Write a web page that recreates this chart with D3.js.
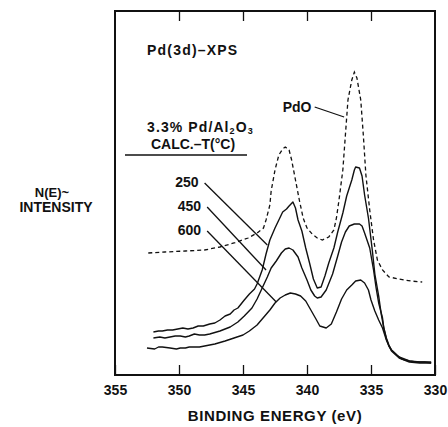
<!DOCTYPE html>
<html>
<head>
<meta charset="utf-8">
<script src="https://cdn.jsdelivr.net/npm/d3@7"></script>
<style>
  html, body { margin: 0; padding: 0; background: #fff; }
  svg { display: block; }
  text { font-family: "Liberation Sans", Arial, Helvetica, sans-serif; font-weight: 700; fill: #111; }
</style>
</head>
<body>
<svg id="chart" width="448" height="427"></svg>
<script>
// Binding energy (eV) and N(E) intensity (arbitrary units)
const pdoEnergy = [352.4, 351.1, 349.5, 348.0, 346.8, 345.7, 344.6, 343.9, 343.4, 343.2, 342.9, 342.8,
  342.5, 342.2, 341.9, 341.7, 341.4, 341.2, 340.9, 340.6, 340.3, 340.0, 339.6, 339.2, 338.8, 338.3,
  337.9, 337.7, 337.5, 337.2, 337.0, 336.8, 336.5, 336.3, 336.1, 335.8, 335.6, 335.4, 335.1, 334.8,
  334.5, 334.1, 333.6, 332.8, 331.9, 331.0];
const pdoIntensity = [12.2, 12.3, 12.4, 12.5, 12.8, 13.2, 13.7, 14.2, 14.7, 15.5, 17.0, 18.4,
  20.5, 22.0, 22.6, 22.8, 22.5, 21.5, 19.5, 17.5, 15.7, 14.7, 14.1, 13.7, 13.5, 13.8,
  14.5, 15.7, 17.5, 20.5, 24.0, 27.5, 29.5, 30.3, 29.7, 27.5, 24.0, 20.0, 16.5, 13.5,
  11.5, 10.5, 9.8, 9.6, 9.4, 9.3];

const t250Energy = [352.0, 351.6, 351.3, 350.9, 350.5, 350.1, 349.7, 349.3, 348.9, 348.5, 348.1, 347.6,
  347.2, 346.8, 346.4, 346.0, 345.7, 345.4, 344.9, 344.5, 344.1, 343.9, 343.5, 343.2, 342.9, 342.5,
  342.2, 341.9, 341.6, 341.4, 341.1, 340.9, 340.7, 340.4, 340.1, 339.8, 339.5, 339.2, 338.9, 338.6,
  338.3, 337.9, 337.6, 337.2, 336.9, 336.5, 336.3, 336.2, 335.9, 335.7, 335.5, 335.2, 334.9, 334.7,
  334.4, 334.2, 334.0, 333.8, 333.6, 333.4, 332.8, 332.0, 331.2, 330.3];
const t250Intensity = [4.3, 4.4, 4.4, 4.5, 4.5, 4.6, 4.7, 4.6, 4.7, 4.9, 4.9, 5.1,
  5.2, 5.5, 5.9, 6.1, 6.5, 6.7, 7.5, 8.1, 8.6, 9.1, 10.5, 12.1, 13.5, 14.7,
  15.5, 16.3, 16.6, 16.9, 17.3, 16.7, 15.5, 14.4, 12.7, 11.2, 9.6, 8.7, 8.8, 9.9,
  11.2, 12.7, 14.3, 16.2, 17.9, 19.5, 20.5, 20.8, 20.7, 19.9, 18.0, 15.7, 12.5, 10.1,
  7.9, 6.1, 4.7, 3.7, 3.0, 2.5, 1.8, 1.4, 1.3, 1.3];

const t450Energy = [352.0, 351.5, 351.1, 350.7, 350.3, 349.9, 349.5, 349.2, 348.8, 348.4, 348.0, 347.6,
  346.8, 346.0, 345.4, 344.9, 344.3, 343.9, 343.5, 343.1, 342.8, 342.4, 342.0, 341.7, 341.4, 341.1,
  340.7, 340.4, 340.0, 339.7, 339.4, 339.2, 338.9, 338.5, 338.0, 337.6, 337.3, 337.0, 336.7, 336.3,
  335.9, 335.7, 335.5, 335.1, 334.8, 334.6, 334.4, 334.1, 334.0, 333.8, 333.6, 333.4, 332.8, 332.0,
  331.2, 330.3];
const t450Intensity = [3.7, 3.8, 3.7, 3.8, 3.9, 3.9, 3.8, 3.9, 4.1, 4.0, 4.0, 4.1,
  4.4, 4.8, 5.3, 5.9, 6.7, 7.6, 8.7, 9.8, 10.7, 11.4, 12.2, 12.6, 12.7, 12.5,
  11.8, 10.7, 9.5, 8.5, 7.9, 7.7, 7.8, 8.5, 10.1, 11.9, 13.3, 14.3, 14.9, 15.1,
  15.1, 14.9, 14.2, 12.7, 10.5, 8.7, 7.2, 5.7, 4.7, 3.6, 2.9, 2.4, 1.7, 1.3,
  1.2, 1.2];

const t600Energy = [352.5, 351.9, 351.6, 351.3, 350.7, 350.2, 349.9, 349.5, 349.2, 348.8, 348.4, 348.0,
  347.2, 346.4, 345.7, 345.0, 344.5, 343.9, 343.3, 342.9, 342.5, 342.1, 341.7, 341.3, 340.9, 340.5,
  340.1, 339.7, 339.3, 339.0, 338.5, 338.1, 337.7, 337.3, 336.9, 336.5, 336.2, 335.8, 335.5, 335.2,
  335.0, 334.7, 334.4, 334.1, 333.8, 333.6, 333.4, 333.0, 332.6, 332.0, 331.5, 330.8, 330.3];
const t600Intensity = [2.7, 2.6, 2.8, 2.8, 2.7, 2.6, 2.7, 2.7, 2.8, 2.8, 2.8, 2.9,
  3.1, 3.4, 3.7, 4.0, 4.4, 5.0, 5.9, 6.5, 7.2, 7.7, 8.0, 8.2, 8.1, 7.9,
  7.4, 6.5, 5.6, 4.9, 4.7, 5.1, 6.3, 7.6, 8.5, 9.0, 9.4, 9.5, 9.2, 8.5,
  7.5, 6.4, 5.5, 4.7, 3.5, 2.9, 2.5, 2.0, 1.6, 1.4, 1.3, 1.3, 1.2];

const xTicks = [355, 350, 345, 340, 335, 330];
const calcTemps = ["250", "450", "600"];
// label anchor (E, I) and where its leader touches the trace
const labelAt = [[348.0, 19.2], [347.8, 16.8], [347.8, 14.4]];
const leaderTo = [[343.1, 13.0], [343.2, 10.5], [342.4, 7.3]];

const W = 448, H = 427;
const plot = { left: 115, right: 435, top: 11, bottom: 375 };

const svg = d3.select("#chart");
svg.append("rect").attr("width", W).attr("height", H).attr("fill", "#fff");

const x = d3.scaleLinear().domain([355, 330]).range([plot.left, plot.right]);
const y = d3.scaleLinear().domain([0, 36.4]).range([plot.bottom, plot.top]);

const line = d3.line().x(d => x(d[0])).y(d => y(d[1])).curve(d3.curveLinear);
const zip = (a, b) => a.map((v, i) => [v, b[i]]);

// frame
svg.append("rect")
  .attr("x", plot.left).attr("y", plot.top)
  .attr("width", plot.right - plot.left).attr("height", plot.bottom - plot.top)
  .attr("fill", "none").attr("stroke", "#111").attr("stroke-width", 2);

// bottom axis, ticks pointing inward
const xb = svg.append("g")
  .attr("transform", `translate(0,${plot.bottom})`)
  .call(d3.axisBottom(x).tickValues(xTicks).tickSize(-10).tickPadding(10).tickFormat(d3.format("d")));
xb.select(".domain").remove();
xb.selectAll("line").attr("stroke", "#111").attr("stroke-width", 1.3);
xb.selectAll("text").attr("font-size", 14).attr("font-family", null).attr("fill", "#111");

// top axis, ticks only
const xt = svg.append("g")
  .attr("transform", `translate(0,${plot.top})`)
  .call(d3.axisTop(x).tickValues(xTicks.slice(1, -1)).tickSize(-10).tickFormat(""));
xt.select(".domain").remove();
xt.selectAll("line").attr("stroke", "#111").attr("stroke-width", 1.3);

// traces
svg.append("path").datum(zip(pdoEnergy, pdoIntensity))
  .attr("d", line).attr("fill", "none").attr("stroke", "#111")
  .attr("stroke-width", 1.3).attr("stroke-dasharray", "4,3");

[[t250Energy, t250Intensity], [t450Energy, t450Intensity], [t600Energy, t600Intensity]].forEach(([e, v]) => {
  svg.append("path").datum(zip(e, v))
    .attr("d", line).attr("fill", "none").attr("stroke", "#111")
    .attr("stroke-width", 1.4).attr("stroke-linejoin", "round");
});

// temperature labels + leaders
calcTemps.forEach((t, i) => {
  svg.append("text")
    .attr("x", x(labelAt[i][0]) - 6).attr("y", y(labelAt[i][1]) + 4)
    .attr("text-anchor", "end").attr("font-size", 14).text(t);
  svg.append("line")
    .attr("x1", x(labelAt[i][0])).attr("y1", y(labelAt[i][1]))
    .attr("x2", x(leaderTo[i][0])).attr("y2", y(leaderTo[i][1]))
    .attr("stroke", "#111").attr("stroke-width", 1.3);
});

// PdO label
svg.append("text").attr("x", x(341.9)).attr("y", y(26.3)).attr("font-size", 14).text("PdO");
svg.append("line")
  .attr("x1", x(339.4)).attr("y1", y(26.8)).attr("x2", x(337.1)).attr("y2", y(25.8))
  .attr("stroke", "#111").attr("stroke-width", 1.3);

// titles inside plot
svg.append("text").attr("x", 147).attr("y", 55).attr("font-size", 14)
  .attr("letter-spacing", 1.2).text("Pd(3d)–XPS");

const sample = svg.append("text").attr("x", 147).attr("y", 132).attr("font-size", 14)
  .attr("letter-spacing", 1.1);
sample.append("tspan").text("3.3% Pd/Al");
sample.append("tspan").attr("font-size", 9).attr("dy", 2).text("2");
sample.append("tspan").attr("dy", -2).text("O");
sample.append("tspan").attr("font-size", 9).attr("dy", 2).text("3");

svg.append("text").attr("x", 193).attr("y", 149).attr("text-anchor", "middle")
  .attr("font-size", 14).text("CALC.–T(°C)");
svg.append("line").attr("x1", 125).attr("x2", 247).attr("y1", 155).attr("y2", 155)
  .attr("stroke", "#111").attr("stroke-width", 1.5);

// axis titles
svg.append("text").attr("x", (plot.left + plot.right) / 2).attr("y", 421)
  .attr("text-anchor", "middle").attr("font-size", 15).attr("letter-spacing", 0.6)
  .text("BINDING ENERGY (eV)");
svg.append("text").attr("x", 52).attr("y", 197).attr("text-anchor", "middle")
  .attr("font-size", 13).text("N(E)~");
svg.append("text").attr("x", 56).attr("y", 212).attr("text-anchor", "middle")
  .attr("font-size", 14).text("INTENSITY");
</script>
</body>
</html>
